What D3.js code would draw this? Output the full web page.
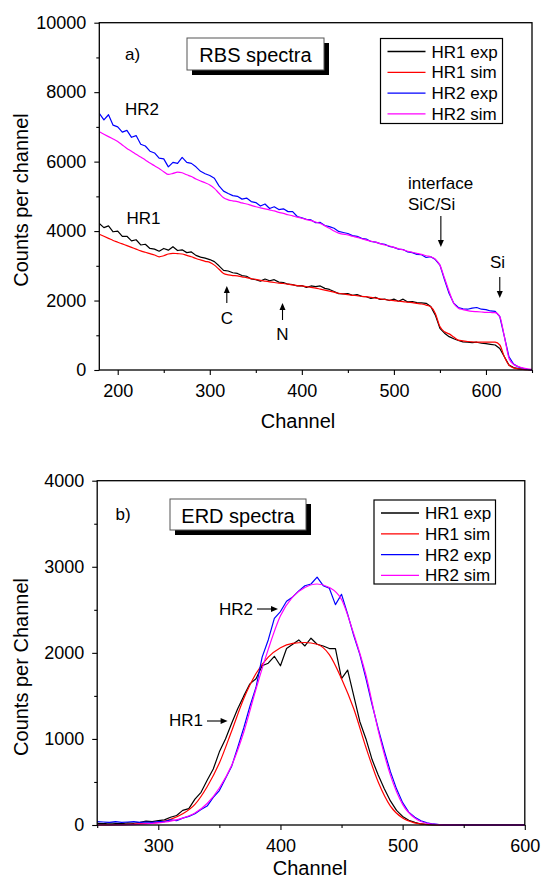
<!DOCTYPE html>
<html>
<head>
<meta charset="utf-8">
<title>RBS / ERD spectra</title>
<script src="https://d3js.org/d3.v7.min.js"></script>
<style>
  body { margin: 0; background: #fff; }
  svg { font-family: "Liberation Sans", Arial, Helvetica, sans-serif; }
</style>
</head>
<body>
<svg id="fig" width="541" height="879"></svg>
<script>
// ---------- data: a) RBS spectra ----------
var rbsChannels = d3.range(180, 651, 5);
var rbsHR1exp = [
  4220,4100,4150,3980,4000,3850,3850,3720,3750,3600,
  3620,3500,3480,3420,3500,3450,3550,3440,3460,3380,
  3400,3300,3250,3220,3180,3120,3000,2870,2850,2800,
  2780,2720,2700,2620,2600,2560,2620,2570,2600,2530,
  2520,2470,2460,2420,2430,2380,2420,2400,2420,2350,
  2320,2260,2200,2190,2200,2150,2170,2120,2110,2060,
  2090,2030,2040,2000,2040,1980,2040,1960,1970,1940,
  1930,1920,1830,1580,1200,1060,960,900,850,810,
  800,790,800,770,760,740,720,620,380,140,
  70,40,20,10,0
];
var rbsHR1sim = [
  3910,3850,3790,3730,3680,3630,3580,3530,3480,3430,
  3390,3350,3310,3260,3290,3340,3360,3350,3340,3300,
  3260,3210,3170,3130,3100,3020,2900,2780,2740,2720,
  2710,2680,2660,2630,2610,2580,2560,2540,2520,2500,
  2490,2470,2450,2430,2420,2400,2380,2360,2330,2300,
  2270,2240,2210,2190,2170,2150,2140,2120,2110,2090,
  2070,2050,2030,2010,2000,1980,1970,1950,1940,1920,
  1900,1870,1820,1630,1250,1100,1040,950,860,840,
  820,810,800,800,800,800,800,720,380,140,
  60,35,20,10,0
];
var rbsHR2exp = [
  7390,7200,7350,7050,7000,6850,6900,6700,6750,6500,
  6450,6300,6250,6100,6080,5850,5980,5950,6120,5980,
  5950,5850,5720,5650,5600,5520,5300,5150,5080,5020,
  5000,4920,4950,4850,4820,4720,4780,4650,4700,4620,
  4640,4560,4560,4420,4380,4340,4320,4240,4250,4160,
  4130,4080,3990,3960,3930,3870,3850,3790,3770,3700,
  3680,3640,3620,3560,3530,3480,3470,3400,3380,3330,
  3320,3240,3260,3180,3020,2600,2200,1920,1800,1760,
  1750,1780,1800,1750,1740,1700,1690,1540,960,380,
  170,90,50,20,0
];
var rbsHR2sim = [
  6860,6790,6720,6650,6580,6480,6380,6300,6210,6130,
  6050,5960,5880,5800,5710,5630,5660,5700,5680,5620,
  5570,5500,5440,5390,5330,5230,5090,4960,4900,4870,
  4850,4810,4780,4740,4700,4670,4640,4610,4580,4540,
  4510,4470,4440,4400,4370,4330,4300,4260,4220,4150,
  4080,4000,3940,3910,3890,3850,3820,3780,3740,3710,
  3680,3640,3600,3570,3530,3490,3460,3420,3390,3360,
  3330,3290,3260,3190,3020,2640,2260,1920,1780,1740,
  1710,1690,1680,1670,1660,1655,1650,1540,960,340,
  160,100,60,35,20
];
var rbsXTicks = [200, 300, 400, 500, 600];
var rbsXMinor = [250, 350, 450, 550, 650];
var rbsYTicks = [0, 2000, 4000, 6000, 8000, 10000];
var rbsYMinor = [1000, 3000, 5000, 7000, 9000];

// ---------- data: b) ERD spectra ----------
var erdChannels = d3.range(250, 601, 5);
var erdSimChannels = d3.range(250, 601, 10);
var erdHR1exp = [
  20,15,25,20,15,25,20,30,45,40,
  50,60,90,110,170,190,300,380,520,650,
  850,1000,1180,1350,1500,1640,1700,1850,1880,1960,
  1850,2050,2100,2150,2080,2170,2100,2080,2050,2050,
  1700,1800,1500,1200,1000,760,580,420,280,170,
  100,55,30,12,5,0,0,0,0,0,
  0,0,0,0,0,0,0,0,0,0,
  0
];
var erdHR1sim = [
  0,2,5,10,18,30,65,130,240,445,
  720,1090,1470,1760,1950,2060,2110,2120,2100,1980,
  1700,1350,900,500,220,80,25,6,1,0,
  0,0,0,0,0,0
];
var erdHR2exp = [
  40,35,30,40,30,35,40,30,35,30,
  40,40,60,50,80,100,130,180,220,320,
  400,540,680,900,1130,1380,1600,1950,2150,2400,
  2480,2600,2650,2720,2780,2800,2880,2780,2750,2560,
  2680,2450,2200,1980,1700,1400,1120,860,620,420,
  260,150,90,50,25,12,5,0,0,0,
  0,0,0,0,0,0,0,0,0,0,
  0
];
var erdHR2sim = [
  0,0,2,5,12,25,45,80,140,250,
  430,690,1080,1580,2040,2430,2650,2760,2800,2760,
  2620,2220,1740,1100,580,240,80,20,5,1,
  0,0,0,0,0,0
];
var erdXTicks = [300, 400, 500, 600];
var erdXMinor = [250, 350, 450, 550];
var erdYTicks = [0, 1000, 2000, 3000, 4000];
var erdYMinor = [500, 1500, 2500, 3500];

var legendNames = ["HR1 exp", "HR1 sim", "HR2 exp", "HR2 sim"];
var colors = ["#000000", "#ff0000", "#0000ff", "#ff00ff"];

var svg = d3.select("#fig");

// arrow: line from (x1,y1) to (x2,y2) with a filled head at the end
function arrow(g, x1, y1, x2, y2) {
  var a = Math.atan2(y2 - y1, x2 - x1), L = 7, W = 3;
  g.append("line").attr("x1", x1).attr("y1", y1)
    .attr("x2", x2 - Math.cos(a) * L * 0.8).attr("y2", y2 - Math.sin(a) * L * 0.8)
    .attr("stroke", "#000").attr("stroke-width", 1.1);
  var bx = x2 - Math.cos(a) * L, by = y2 - Math.sin(a) * L;
  g.append("path")
    .attr("d", "M" + x2 + "," + y2 +
      "L" + (bx - Math.sin(a) * W) + "," + (by + Math.cos(a) * W) +
      "L" + (bx + Math.sin(a) * W) + "," + (by - Math.cos(a) * W) + "Z")
    .attr("fill", "#000");
}

function panel(cfg) {
  var g = svg.append("g");
  var x = d3.scaleLinear().domain(cfg.xDomain).range([cfg.left, cfg.right]);
  var y = d3.scaleLinear().domain(cfg.yDomain).range([cfg.bottom, cfg.top]);

  var clipId = cfg.id + "-clip";
  g.append("clipPath").attr("id", clipId).append("rect")
    .attr("x", cfg.left).attr("y", cfg.top)
    .attr("width", cfg.right - cfg.left).attr("height", cfg.bottom - cfg.top + 1);

  var line = d3.line().x(function(d) { return x(d[0]); }).y(function(d) { return y(d[1]); });

  var plot = g.append("g").attr("clip-path", "url(#" + clipId + ")");
  cfg.series.forEach(function(s, i) {
    var pts = s.values.map(function(v, k) { return [s.x[k], v]; });
    plot.append("path").datum(pts)
      .attr("d", line.curve(s.smooth ? d3.curveMonotoneX : d3.curveLinear))
      .attr("fill", "none").attr("stroke", colors[i])
      .attr("stroke-width", 1.2).attr("stroke-linejoin", "round");
  });

  // axes
  g.append("g").attr("transform", "translate(0," + cfg.bottom + ")")
    .call(d3.axisBottom(x).tickValues(cfg.xTicks).tickSize(5).tickPadding(9).tickFormat(d3.format("d")));
  g.append("g").attr("transform", "translate(0," + cfg.bottom + ")")
    .call(d3.axisBottom(x).tickValues(cfg.xMinor).tickSize(3).tickFormat(""));
  g.append("g").attr("transform", "translate(" + cfg.left + ",0)")
    .call(d3.axisLeft(y).tickValues(cfg.yTicks).tickSize(5).tickPadding(8).tickFormat(d3.format("d")));
  g.append("g").attr("transform", "translate(" + cfg.left + ",0)")
    .call(d3.axisLeft(y).tickValues(cfg.yMinor).tickSize(3).tickFormat(""));
  g.selectAll(".domain").remove();
  g.selectAll(".tick line").attr("stroke", "#000").attr("stroke-width", 1.1);
  g.selectAll(".tick text").attr("font-size", 18).attr("fill", "#000")
    .attr("font-family", "'Liberation Sans', Arial, sans-serif");

  // frame
  g.append("rect").attr("x", cfg.left).attr("y", cfg.top)
    .attr("width", cfg.right - cfg.left).attr("height", cfg.bottom - cfg.top)
    .attr("fill", "none").attr("stroke", "#000").attr("stroke-width", 1.3);

  // axis titles
  g.append("text").attr("x", cfg.xTitleX).attr("y", cfg.xTitleY)
    .attr("text-anchor", "middle").attr("font-size", 20).text("Channel");
  g.append("text")
    .attr("transform", "translate(28," + cfg.yTitleMid + ") rotate(-90)")
    .attr("text-anchor", "middle").attr("font-size", 20).text(cfg.yTitle);

  // title box with shadow
  var tb = cfg.titleBox;
  g.append("rect").attr("x", tb.x + 5).attr("y", tb.y + 5).attr("width", tb.w).attr("height", tb.h).attr("fill", "#000");
  g.append("rect").attr("x", tb.x).attr("y", tb.y).attr("width", tb.w).attr("height", tb.h)
    .attr("fill", "#fff").attr("stroke", "#555").attr("stroke-width", 1);
  g.append("text").attr("x", tb.x + tb.w / 2).attr("y", tb.y + 23.5)
    .attr("text-anchor", "middle").attr("font-size", 20).text(cfg.title);

  g.append("text").attr("x", cfg.tag.x).attr("y", cfg.tag.y).attr("font-size", 17).text(cfg.tag.text);

  // legend
  var lg = cfg.legend;
  g.append("rect").attr("x", lg.x).attr("y", lg.y).attr("width", lg.w).attr("height", lg.h)
    .attr("fill", "#fff").attr("stroke", "#000").attr("stroke-width", 1.2);
  legendNames.forEach(function(n, i) {
    var ry = lg.y + 13 + i * 20.8;
    g.append("line").attr("x1", lg.x + 7).attr("x2", lg.x + 45).attr("y1", ry).attr("y2", ry)
      .attr("stroke", colors[i]).attr("stroke-width", 1.3);
    g.append("text").attr("x", lg.x + 51).attr("y", ry + 6).attr("font-size", 17).text(n);
  });

  return { g: g, x: x, y: y };
}

// ---------- panel a) ----------
var a = panel({
  id: "rbs", left: 99.3, right: 532, top: 22.7, bottom: 370,
  xDomain: [180, 650], yDomain: [0, 10000],
  xTicks: rbsXTicks, xMinor: rbsXMinor, yTicks: rbsYTicks, yMinor: rbsYMinor,
  series: [
    { x: rbsChannels, values: rbsHR1exp },
    { x: rbsChannels, values: rbsHR1sim, smooth: true },
    { x: rbsChannels, values: rbsHR2exp },
    { x: rbsChannels, values: rbsHR2sim, smooth: true }
  ],
  xTitleX: 298, xTitleY: 428, yTitle: "Counts per channel", yTitleMid: 200,
  title: "RBS spectra", titleBox: { x: 187, y: 38, w: 137, h: 32 },
  tag: { text: "a)", x: 125, y: 60 },
  legend: { x: 380.5, y: 38.5, w: 122, h: 85 }
});
var ga = a.g;
ga.append("text").attr("x", 125).attr("y", 115).attr("font-size", 17).text("HR2");
ga.append("text").attr("x", 126.5).attr("y", 224).attr("font-size", 17).text("HR1");
ga.append("text").attr("x", 408).attr("y", 189).attr("font-size", 17).text("interface");
ga.append("text").attr("x", 408).attr("y", 210).attr("font-size", 17).text("SiC/Si");
arrow(ga, a.x(551), 216, a.x(551), 247);
ga.append("text").attr("x", 490).attr("y", 268).attr("font-size", 17).text("Si");
arrow(ga, a.x(615), 277, a.x(615), 298);
ga.append("text").attr("x", a.x(318.5)).attr("y", 324).attr("text-anchor", "middle").attr("font-size", 17).text("C");
arrow(ga, a.x(318.5), 303, a.x(318.5), 286);
ga.append("text").attr("x", a.x(379)).attr("y", 340).attr("text-anchor", "middle").attr("font-size", 17).text("N");
arrow(ga, a.x(379), 320, a.x(379), 303);

// ---------- panel b) ----------
var b = panel({
  id: "erd", left: 97.2, right: 524.8, top: 480.7, bottom: 825,
  xDomain: [250, 600], yDomain: [0, 4000],
  xTicks: erdXTicks, xMinor: erdXMinor, yTicks: erdYTicks, yMinor: erdYMinor,
  series: [
    { x: erdChannels, values: erdHR1exp },
    { x: erdSimChannels, values: erdHR1sim, smooth: true },
    { x: erdChannels, values: erdHR2exp },
    { x: erdSimChannels, values: erdHR2sim, smooth: true }
  ],
  xTitleX: 310, xTitleY: 875, yTitle: "Counts per Channel", yTitleMid: 667,
  title: "ERD spectra", titleBox: { x: 170, y: 499, w: 136, h: 31 },
  tag: { text: "b)", x: 115.5, y: 520 },
  legend: { x: 374, y: 500, w: 121.5, h: 84 }
});
var gb = b.g;
gb.append("text").attr("x", 219).attr("y", 615).attr("font-size", 17).text("HR2");
arrow(gb, 257, 609, 278, 609);
gb.append("text").attr("x", 169).attr("y", 726).attr("font-size", 17).text("HR1");
arrow(gb, 207, 721, 227.6, 721);
</script>
</body>
</html>
